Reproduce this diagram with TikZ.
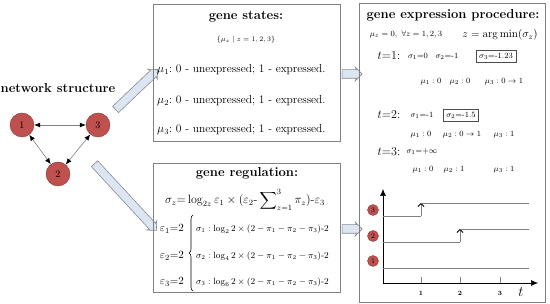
\documentclass[tikz,border=0pt]{standalone}
\usepackage{amsmath,amssymb}
\usetikzlibrary{shapes.arrows,arrows.meta,decorations.pathreplacing}
\definecolor{nred}{HTML}{C0504D}
\definecolor{nredd}{HTML}{8C3836}
\definecolor{afill}{HTML}{DCE6F2}
\definecolor{agray}{HTML}{8A8A8A}
\definecolor{bgray}{HTML}{808080}
\tikzset{
  gnode/.style={circle,draw=nredd,fill=nred,minimum size=24pt,inner sep=0pt,font=\fontsize{10}{12}\selectfont},
  smallg/.style={circle,draw=nredd,fill=nred,minimum size=11pt,inner sep=0pt,font=\fontsize{7}{8}\selectfont},
  panel/.style={draw=bgray,line width=0.8pt},
  blockarrow/.style={single arrow,draw=agray,fill=afill,line width=0.6pt,inner xsep=0pt,inner ysep=4pt,
     minimum width=13pt,single arrow head extend=2.5pt,single arrow head indent=1pt},
  link/.style={draw=gray,line width=0.6pt,{Latex[length=6pt,width=5pt,black]}-{Latex[length=6pt,width=5pt,black]}},
  titletext/.style={font=\bfseries\fontsize{13}{15}\selectfont},
  bodytext/.style={font=\fontsize{11.5}{13}\selectfont,anchor=west,inner sep=0pt},
  smalltext/.style={font=\fontsize{8.5}{10}\selectfont,inner sep=0pt},
  ttext/.style={font=\fontsize{12}{14}\selectfont,inner sep=0pt},
  epstext/.style={font=\fontsize{11}{13}\selectfont,anchor=east,inner sep=0pt},
  casetext/.style={font=\fontsize{9.2}{11}\selectfont,anchor=west,inner sep=0pt},
  casebrace/.style={draw=black,line width=0.6pt,decorate,decoration={brace,amplitude=4pt}},
  valbox/.style={draw=black!70,line width=0.5pt,inner sep=3pt,font=\fontsize{8.5}{10}\selectfont},
  axisline/.style={draw=black,line width=0.6pt,{Latex[length=7pt,width=6pt]}-{Latex[length=7pt,width=6pt]}},
  stepline/.style={draw=bgray,line width=0.8pt},
  stepup/.style={draw=bgray,line width=0.8pt,-{Straight Barb[length=3pt,width=6pt,black]}},
  tickline/.style={draw=bgray,line width=0.6pt},
}
\begin{document}
\begin{tikzpicture}[x=1pt,y=-1pt]
\useasboundingbox (0,0) rectangle (550,304);

% network
\node[titletext] (nettitle) at (58,88) {network structure};
\node[gnode] (n1) at (22,125) {1};
\node[gnode] (n3) at (98,125) {3};
\node[gnode] (n2) at (58,174) {2};
\draw[link] (n1) -- (n3);
\draw[link] (n1) -- (n2);
\draw[link] (n3) -- (n2);

% block arrows
\node[blockarrow,minimum height=58pt,rotate=43.6] (ba1) at (135,91) {};
\node[blockarrow,minimum height=91pt,rotate=-47.2] (ba2) at (124,195.5) {};
\node[blockarrow,minimum height=20pt] (ba3) at (350,74) {};
\node[blockarrow,minimum height=20pt] (ba4) at (350,229) {};

% panels
\draw[panel] (153,4) rectangle (340,141);
\draw[panel] (153,163) rectangle (340,292);
\draw[panel] (359,3) rectangle (545,302);

% gene states
\node[titletext] (gst) at (246,17) {gene states:};
\node[font=\fontsize{7.5}{9}\selectfont] (gset) at (246,40) {$\{\mu_z \mid z=1,2,3\}$};
\node[bodytext] (g1) at (157,70) {$\mu_1$:\ 0 - unexpressed; 1 - expressed.};
\node[bodytext] (g2) at (157,101) {$\mu_2$:\ 0 - unexpressed; 1 - expressed.};
\node[bodytext] (g3) at (157,130) {$\mu_3$:\ 0 - unexpressed; 1 - expressed.};

% gene regulation
\node[titletext] (grt) at (247,173) {gene regulation:};
\node[font=\fontsize{12}{14}\selectfont] (gform) at (245,200)
  {$\sigma_z{=}\log_{2z}\varepsilon_1\times(\varepsilon_2\text{-}\displaystyle\sum\nolimits_{z=1}^{3}\pi_z)\text{-}\varepsilon_3$};
\node[epstext] (e1) at (184,229) {$\varepsilon_1{=}2$};
\node[epstext] (e2) at (184,256) {$\varepsilon_2{=}2$};
\node[epstext] (e3) at (184,282) {$\varepsilon_3{=}2$};
\coordinate (bbot) at (193,291);
\coordinate (btop) at (193,215);
\draw[casebrace] (bbot) -- (btop);
\node[casetext] (q1) at (196,229) {$\sigma_1:\log_2 2\times(2-\pi_1-\pi_2-\pi_3)\text{-}2$};
\node[casetext] (q2) at (196,256) {$\sigma_2:\log_4 2\times(2-\pi_1-\pi_2-\pi_3)\text{-}2$};
\node[casetext] (q3) at (196,282) {$\sigma_3:\log_6 2\times(2-\pi_1-\pi_2-\pi_3)\text{-}2$};

% gene expression procedure
\node[titletext] (gpt) at (453,15) {gene expression procedure:};
\node[smalltext] (init) at (406,35) {$\mu_z=0,\ \forall z=1,2,3$};
\node[font=\fontsize{11}{13}\selectfont,inner sep=0pt] (argm) at (500,35) {$z=\arg\min(\sigma_z)$};

\node[ttext] (t1) at (389,56) {$t$=1:};
\node[smalltext] (s11) at (418,56) {$\sigma_1{=}0$};
\node[smalltext] (s12) at (447,56) {$\sigma_2{=}\text{-}1$};
\node[valbox] (s13) at (496,56) {$\sigma_3{=}\text{-}1.23$};
\node[smalltext] (m11) at (431,82) {$\mu_1:0$};
\node[smalltext] (m12) at (460,82) {$\mu_2:0$};
\node[smalltext] (m13) at (504,82) {$\mu_3:0\rightarrow1$};

\node[ttext] (t2) at (389,115) {$t$=2:};
\node[smalltext] (s21) at (422,115) {$\sigma_1{=}\text{-}1$};
\node[valbox] (s22) at (461,115) {$\sigma_2{=}\text{-}1.5$};
\node[smalltext] (m21) at (421,135) {$\mu_1:0$};
\node[smalltext] (m22) at (462,135) {$\mu_2:0\rightarrow1$};
\node[smalltext] (m23) at (504,135) {$\mu_3:1$};

\node[ttext] (t3) at (389,152) {$t$=3:};
\node[smalltext] (s31) at (422,152) {$\sigma_1{=}{+}\infty$};
\node[smalltext] (m31) at (423,170) {$\mu_1:0$};
\node[smalltext] (m32) at (454,170) {$\mu_2:1$};
\node[smalltext] (m33) at (504,170) {$\mu_3:1$};

% plot
\coordinate (O) at (383,283);
\coordinate (ytop) at (383,189);
\coordinate (xend) at (538,283);
\draw[axisline] (ytop) -- (O) -- (xend);
\foreach \xx/\lab in {421/1,460/2,500/3}{
  \draw[tickline] (\xx,277) -- (\xx,283);
  \node[font=\bfseries\fontsize{6.5}{7}\selectfont] at (\xx,293) {\lab};
}
\node[font=\fontsize{14}{16}\selectfont] (tlab) at (521,292) {$t$};

\node[smallg] (c3) at (373,210) {3};
\node[smallg] (c2) at (373,236) {2};
\node[smallg] (c1) at (373,261) {1};

\coordinate (a3) at (383,216); \coordinate (b3) at (421,216);
\coordinate (c3t) at (421,203); \coordinate (d3) at (529,203);
\draw[stepline] (a3) -- (b3);
\draw[stepup] (b3) -- (c3t);
\draw[stepline] (c3t) -- (d3);

\coordinate (a2) at (383,242); \coordinate (b2) at (460,242);
\coordinate (c2t) at (460,229); \coordinate (d2) at (529,229);
\draw[stepline] (a2) -- (b2);
\draw[stepup] (b2) -- (c2t);
\draw[stepline] (c2t) -- (d2);

\coordinate (a1) at (383,268); \coordinate (d1) at (529,268);
\draw[stepline] (a1) -- (d1);
\end{tikzpicture}
\end{document}
